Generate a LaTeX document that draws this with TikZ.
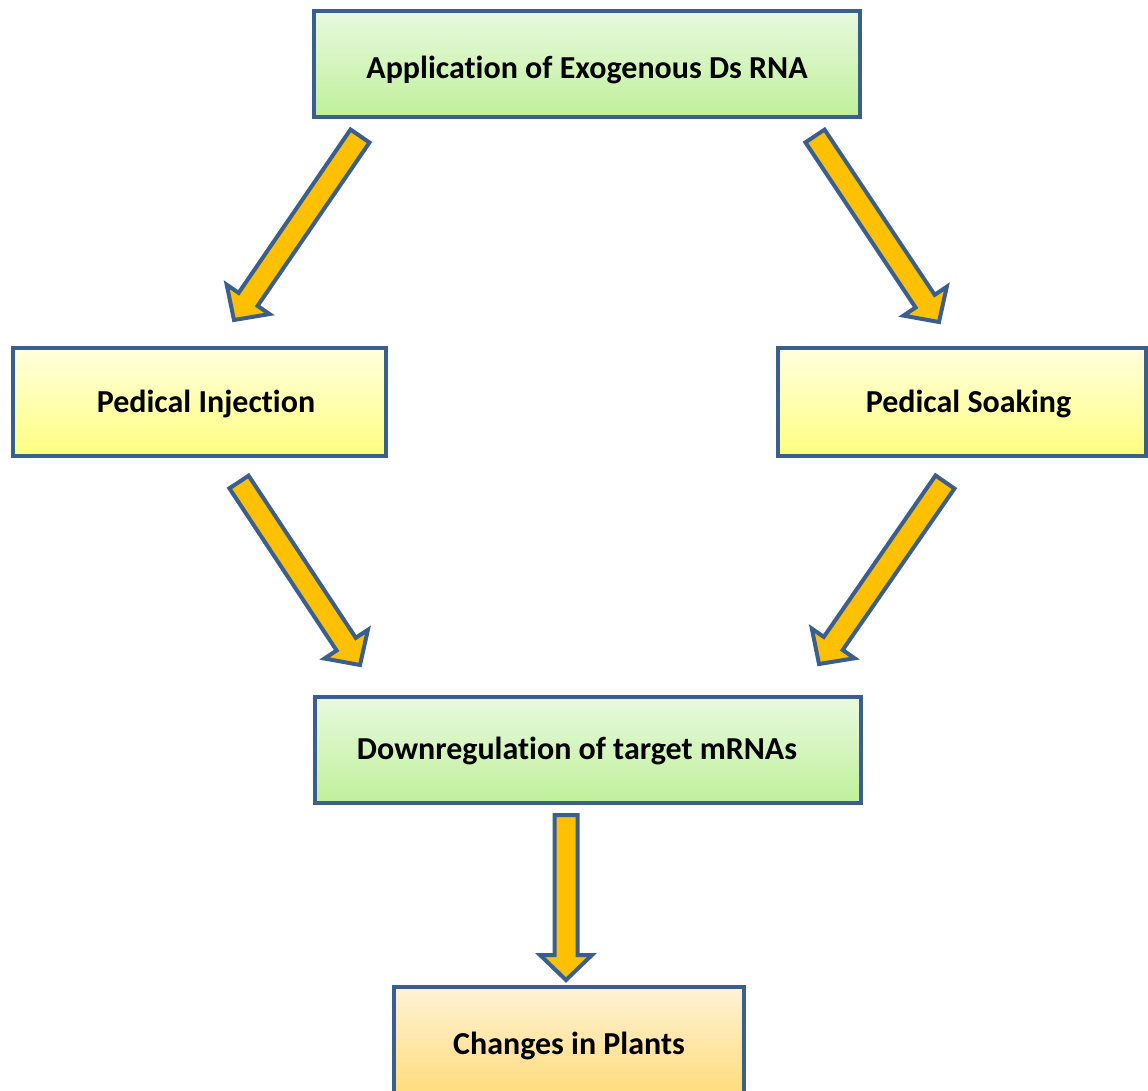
\documentclass[tikz,border=0pt]{standalone}
\usepackage{fontspec}
\setmainfont{Carlito}[Ligatures=CommonOff]
\usetikzlibrary{positioning, calc}

\definecolor{boxline}{HTML}{3A5F8E}
\definecolor{arrowfill}{HTML}{FFC000}
\definecolor{greentop}{HTML}{E8F9DF}
\definecolor{greenbot}{HTML}{C0F09A}
\definecolor{yellowtop}{HTML}{FFFFDE}
\definecolor{yellowbot}{HTML}{FFFF80}
\definecolor{orangetop}{HTML}{FFF2D6}
\definecolor{orangebot}{HTML}{FFDB78}

% block arrow from #1 (tail) to #2 (tip)
\newcommand{\blockarrow}[2]{%
  \coordinate (#2-h) at ($(#2)!25pt!(#1)$);
  \filldraw[blockarrow] ($(#1)!11.5pt!90:(#2)$) -- ($(#2-h)!11.5pt!-90:(#1)$)
    -- ($(#2-h)!26pt!-90:(#1)$) -- (#2) -- ($(#2-h)!26pt!90:(#1)$)
    -- ($(#2-h)!11.5pt!90:(#1)$) -- ($(#1)!11.5pt!-90:(#2)$) -- cycle;
}

\begin{document}
\begin{tikzpicture}[x=1pt, y=-1pt,
    box/.style={draw=boxline, line width=4pt, inner sep=0pt,
      font=\fontsize{32}{38}\selectfont\bfseries},
    greenbox/.style={box, top color=greentop, bottom color=greenbot},
    yellowbox/.style={box, top color=yellowtop, bottom color=yellowbot},
    orangebox/.style={box, top color=orangetop, bottom color=orangebot},
    blockarrow/.style={draw=boxline, fill=arrowfill, line width=4pt, line join=miter}]
    \useasboundingbox (0,0) rectangle (1148,1090);

    % Boxes
    \node[greenbox, minimum width=546pt, minimum height=106pt,
      text height=33pt, text depth=4pt] (dsrna) at (587,64) {Application of Exogenous Ds RNA};
    \node[yellowbox, minimum width=373pt, minimum height=108pt,
      text height=26pt, text depth=5pt] (inject) at (199.5,402) {\hspace{13pt}Pedical Injection};
    \node[yellowbox, minimum width=368pt, minimum height=108pt,
      text height=26pt, text depth=5pt] (soak) at (962,402) {\hspace{13pt}Pedical Soaking};
    \node[greenbox, minimum width=546pt, minimum height=106pt,
      text height=25pt, text depth=6pt] (down) at (588,750) {Downregulation of target mRNAs\kern22pt};
    \node[orangebox, minimum width=350pt, minimum height=112pt,
      text height=28pt, text depth=5pt] (plants) at (569,1043) {Changes in Plants};

    % Arrow ends
    \coordinate (a1s) at (360,136);
    \coordinate (a1e) at (234,320);
    \coordinate (a2s) at (815,136);
    \coordinate (a2e) at (939,322);
    \coordinate (a3s) at (239,482);
    \coordinate (a3e) at (360,665);
    \coordinate (a4s) at (945,482);
    \coordinate (a4e) at (819,664);
    \coordinate (a5s) at (566,815);
    \coordinate (a5e) at (566,980);

    % Arrows
    \blockarrow{a1s}{a1e}
    \blockarrow{a2s}{a2e}
    \blockarrow{a3s}{a3e}
    \blockarrow{a4s}{a4e}
    \blockarrow{a5s}{a5e}
\end{tikzpicture}
\end{document}
